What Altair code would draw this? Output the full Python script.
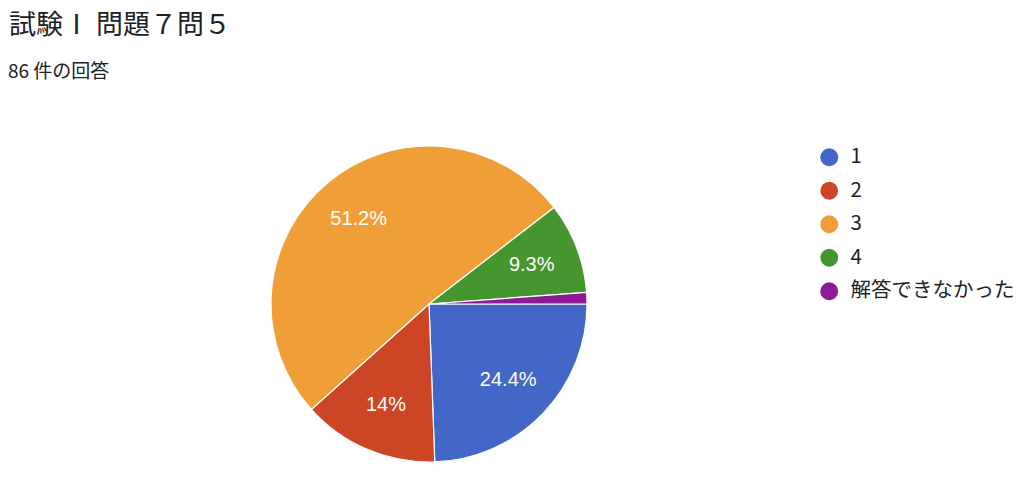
import altair as alt
import pandas as pd
import math

categories = ["1", "2", "3", "4", "解答できなかった"]
counts = [21, 12, 44, 8, 1]
colors = ["#4267C6", "#CC4626", "#F09F38", "#46962F", "#8E1B96"]
title_text = "試験Ⅰ 問題７問５"
subtitle_text = "86 件の回答"

total = sum(counts)
labels = []
for c in counts:
    p = c / total * 100
    s = f"{p:.1f}"
    if s.endswith(".0"):
        s = s[:-2]
    labels.append(s + "%" if p >= 5 else "")

df = pd.DataFrame({"cat": categories, "count": counts, "label": labels,
                   "order": list(range(len(categories)))})

FONT = "Noto Sans CJK JP"
CX, CY, R = 421, 296, 158

theta = alt.Theta("count:Q", stack=True,
                  scale=alt.Scale(range=[math.pi / 2, math.pi / 2 + 2 * math.pi]))
color = alt.Color("cat:N", scale=alt.Scale(domain=categories, range=colors),
                  sort=categories,
                  legend=alt.Legend(title=None, orient="none", legendX=811, legendY=139,
                                    symbolType="circle", symbolSize=320,
                                    symbolStrokeWidth=0, labelFont=FONT,
                                    labelFontSize=20.5, labelColor="#222222",
                                    labelLimit=400,
                                    rowPadding=12.5, labelOffset=11))

base = alt.Chart(df)
pie = base.mark_arc(outerRadius=R, stroke="white", strokeWidth=1.2).encode(
    theta=theta, color=color, order=alt.Order("order:Q"),
    x=alt.value(CX), y=alt.value(CY))
txt = base.mark_text(radius=110, fontSize=20, fill="white", font="Liberation Sans").encode(
    theta=theta, text="label:N", order=alt.Order("order:Q"),
    x=alt.value(CX), y=alt.value(CY))

title = alt.Chart(pd.DataFrame({"t": [title_text]})).mark_text(
    align="left", baseline="middle", fontSize=27, font=FONT, color="#202124").encode(
    text="t:N", x=alt.value(1), y=alt.value(18))
sub = alt.Chart(pd.DataFrame({"t": [subtitle_text]})).mark_text(
    align="left", baseline="middle", fontSize=19, font=FONT, color="#202124").encode(
    text="t:N", x=alt.value(0), y=alt.value(64))

chart = alt.layer(pie, txt, title, sub).properties(
    width=1008, height=467,
    autosize=alt.AutoSizeParams(type="none"), padding=0
).configure_view(stroke=None)

chart.save("out.html", embed_options={"renderer": "svg", "actions": False})
